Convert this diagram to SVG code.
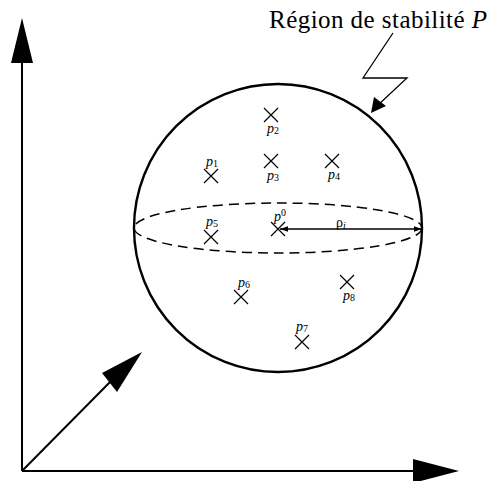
<svg xmlns="http://www.w3.org/2000/svg" width="490" height="481" viewBox="0 0 490 481">
<defs>
<style>
.ax{stroke:#000;stroke-width:2;fill:none}
.cr{stroke:#000;stroke-width:1.2;fill:none}
.lb{font-family:"Liberation Serif",serif;font-style:italic;font-size:14px;fill:#000}
.sb{font-size:10px;font-style:normal}
.up{font-style:normal}
</style>
<marker id="ah" viewBox="0 0 10 10" refX="10" refY="5" markerWidth="8" markerHeight="8" markerUnits="userSpaceOnUse" orient="auto-start-reverse"><path d="M0,1.5 L10,5 L0,8.5 z" fill="#000"/></marker>
<path id="x" d="M-7,-7 L7,7 M-7,7 L7,-7" class="cr"/>
</defs>
<g id="axes">
<line class="ax" x1="22" y1="471" x2="22" y2="60"/>
<polygon points="22,18 11,63 33,63" fill="#000"/>
<line class="ax" x1="22" y1="471" x2="416" y2="471"/>
<polygon points="459,471 413,459 413,483" fill="#000"/>
<line class="ax" x1="22" y1="471" x2="112" y2="380"/>
<polygon points="142,352 102,373 117,392" fill="#000"/>
</g>
<g id="sphere">
<circle cx="278" cy="228" r="144" fill="none" stroke="#000" stroke-width="2.4"/>
<ellipse cx="278" cy="228" rx="144" ry="25" fill="none" stroke="#000" stroke-width="1.5" stroke-dasharray="10,6"/>
</g>
<g id="title">
<text x="269" y="28" font-family="'Liberation Serif',serif" font-size="25" textLength="218" lengthAdjust="spacing">Région de stabilité <tspan font-style="italic">P</tspan></text>
<polyline points="393,33 363,78 407,78 377,106" fill="none" stroke="#000" stroke-width="1.3"/>
<polygon points="371,113 374,97 386,106" fill="#000"/>
</g>
<g id="radius">
<line x1="280" y1="229" x2="422" y2="229" stroke="#000" stroke-width="1.3" marker-start="url(#ah)" marker-end="url(#ah)"/>
<text class="lb up" x="336" y="227">ρ<tspan class="sb" style="font-style:italic" dy="2">i</tspan></text>
</g>
<g id="p0"><use href="#x" x="278" y="229"/><text class="lb" x="274" y="221">p<tspan class="sb" dy="-5">0</tspan></text></g>
<g id="p1"><use href="#x" x="211" y="176"/><text class="lb" x="206" y="166">p<tspan class="sb" dy="1">1</tspan></text></g>
<g id="p2"><use href="#x" x="271" y="115"/><text class="lb" x="267" y="133">p<tspan class="sb" dy="1">2</tspan></text></g>
<g id="p3"><use href="#x" x="271" y="161"/><text class="lb" x="267" y="180">p<tspan class="sb" dy="1">3</tspan></text></g>
<g id="p4"><use href="#x" x="332" y="161"/><text class="lb" x="328" y="179">p<tspan class="sb" dy="1">4</tspan></text></g>
<g id="p5"><use href="#x" x="211" y="237"/><text class="lb" x="206" y="226">p<tspan class="sb" dy="1">5</tspan></text></g>
<g id="p6"><use href="#x" x="241" y="297"/><text class="lb" x="238" y="287">p<tspan class="sb" dy="1">6</tspan></text></g>
<g id="p7"><use href="#x" x="302" y="342"/><text class="lb" x="296" y="331">p<tspan class="sb" dy="1">7</tspan></text></g>
<g id="p8"><use href="#x" x="347" y="282"/><text class="lb" x="343" y="300">p<tspan class="sb" dy="1">8</tspan></text></g>
</svg>
